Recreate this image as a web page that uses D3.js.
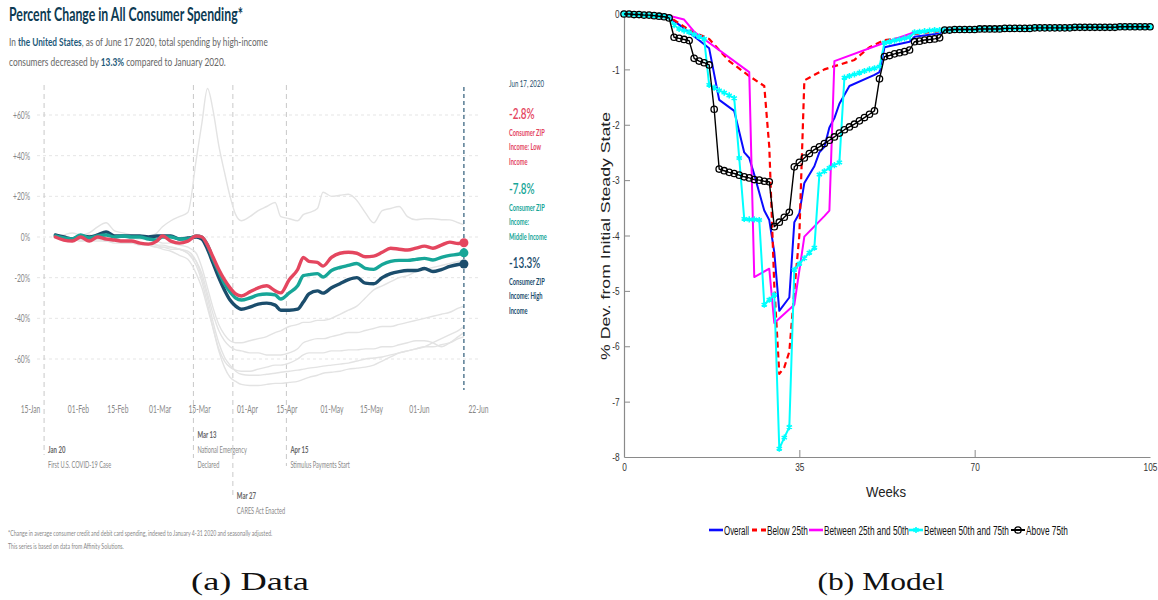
<!DOCTYPE html>
<html>
<head>
<meta charset="utf-8">
<title>Consumer spending: data and model</title>
<script src="https://cdn.jsdelivr.net/npm/d3@7/dist/d3.min.js"></script>
<style>
  html, body { margin: 0; padding: 0; background: #fff; }
  svg { display: block; }
  text { white-space: pre; }
</style>
</head>
<body>
<svg id="fig" width="1158" height="600"></svg>
<script>
// ---------------- (a) Card spending by consumer ZIP income ----------------
const spendDates = ["2020-01-24","2020-01-27","2020-01-30","2020-02-02","2020-02-05","2020-02-08","2020-02-11","2020-02-14","2020-02-17","2020-02-20",
  "2020-02-23","2020-02-26","2020-02-29","2020-03-02","2020-03-05","2020-03-08","2020-03-11","2020-03-14","2020-03-16","2020-03-18",
  "2020-03-20","2020-03-22","2020-03-24","2020-03-26","2020-03-28","2020-03-30","2020-04-02","2020-04-05","2020-04-08","2020-04-11",
  "2020-04-13","2020-04-16","2020-04-19","2020-04-21","2020-04-23","2020-04-26","2020-04-28","2020-05-01","2020-05-04","2020-05-07",
  "2020-05-10","2020-05-13","2020-05-16","2020-05-19","2020-05-22","2020-05-25","2020-05-28","2020-05-31","2020-06-03","2020-06-06",
  "2020-06-09","2020-06-12","2020-06-15","2020-06-17"];

const lowIncome = [0, -1.5, -2, 0, -2, 0, -1, -1.5, -2, -2,
  -3, -3.5, -2, 0.5, -2, -3, -2, 0.5, 0, -4,
  -10, -16, -21, -25, -28, -29, -27, -25, -24, -26.5,
  -27.5, -21, -16, -10, -12, -12.5, -14.3, -10, -8, -7.5,
  -8, -9.7, -9.4, -7.5, -5.5, -6, -6.4, -5.5, -4.5, -5.5,
  -4, -2.5, -3.2, -2.8];

const middleIncome = [0.5, -0.5, -1, 1, -0.5, 0.5, 1, 0, 0.5, 0,
  0, -1, -1.5, 0, 0, -1, -1, 0.5, 0, -4,
  -11, -17, -23, -27, -30, -31, -30, -28.5, -28, -28.5,
  -30.5, -27.5, -24, -19, -18.5, -18, -19.7, -16.5, -15, -14,
  -13, -15.4, -15.9, -13.5, -12, -11.5, -11.5, -11, -10.5, -11.3,
  -10, -9, -8.5, -7.8];

const highIncome = [1, 0, -1, 0.5, 0, 1, 2.5, 0.5, 0.5, 0.5,
  0.5, 0, 0.5, 0.5, 0.5, -1, -0.5, 0, -1, -6,
  -13, -20, -26, -31, -34, -35.5, -34.5, -33, -32.5, -33.5,
  -36, -36, -35.5, -32, -28, -26.5, -27.6, -25, -23, -21,
  -20, -22.7, -23, -20, -18, -17, -16.5, -16.5, -15.5, -17,
  -16, -14.5, -13.5, -13.3];

// other spending breakdowns shown as grey context lines
const context1 = [0, 0.5, -0.5, 0, 1, 0, 1, 0, 0, -0.5,
  -1, 0, 2, 5, 8, 10, 12, 38, 56, 73,
  62, 45, 32, 20, 11, 8, 10, 13, 15, 17,
  10, 9, 8, 11, 12, 14, 22, 20, 20.5, 21,
  18, 12, 7, 13, 14, 15, 10, 8.5, 9, 9,
  8.5, 8.4, 7, 6];
const context2 = [0, 1, 2, 1, 2, 5, 7, 3, 2, 1,
  0, -1, -2, -3, -3, -4, -5, -8, -15, -25,
  -35, -43, -48, -51, -52, -52, -51, -50, -49, -47,
  -46, -44, -43, -42, -42, -41, -41, -40, -38, -36,
  -34, -30, -26, -24, -22, -20, -19, -17, -16, -15,
  -14, -13, -12, -11.3];
const context3 = [0, -1, -1, -2, -1, -1, -2, -2, -3, -3,
  -3, -4, -5, -5, -6, -6, -8, -12, -18, -28,
  -38, -46, -51, -54, -55.5, -56, -57, -57, -58, -58,
  -58, -57, -55, -52, -51, -50, -50, -49, -48, -47,
  -47, -46, -45, -44, -44, -43, -42, -41, -40, -39,
  -38, -37, -35, -34];
const context4 = [0, -1, -2, -1, -2, -2, -2, -3, -3, -3,
  -4, -4, -5, -6, -7, -9, -11, -18, -25, -35,
  -45, -55, -61, -64, -65.5, -66, -66, -65, -64, -63,
  -63, -62, -60, -58, -57, -57, -57, -56, -56, -55.5,
  -55.5, -55, -55, -54, -54, -53, -52, -51, -51, -52,
  -54, -52, -49, -47];
const context5 = [0, -1, -1, -2, -2, -1, -2, -2, -2, -3,
  -3, -3, -4, -4, -5, -6, -8, -14, -22, -33,
  -45, -56, -64, -69, -71, -72.5, -73, -73, -72.5, -72,
  -72, -71.5, -71, -70, -69, -68, -67, -66.5, -66, -65,
  -64.5, -64, -63, -61, -59, -57, -56, -55, -54, -54,
  -53, -52, -50, -49];
const context6 = [0, 0, -1, -1, -2, -1, -1, -2, -2, -2,
  -3, -3, -4, -5, -5, -6, -7, -12, -20, -30,
  -42, -52, -59, -63, -66, -67.5, -68, -68, -67.5, -67,
  -66.5, -66, -65.5, -65, -64.5, -64, -63.5, -63, -62.5, -62,
  -61, -60, -59.5, -59, -58, -57, -56, -55, -54, -52,
  -50, -48, -46, -44];

const pctTicks = [60, 40, 20, 0, -20, -40, -60];
const dateTicks = ["2020-01-15","2020-02-01","2020-02-15","2020-03-01","2020-03-15","2020-04-01",
  "2020-04-15","2020-05-01","2020-05-15","2020-06-01","2020-06-22"];
const dateTickLabels = ["15-Jan","01-Feb","15-Feb","01-Mar","15-Mar","01-Apr","15-Apr","01-May","15-May","01-Jun","22-Jun"];

const eventDates = ["2020-01-20","2020-03-13","2020-03-27","2020-04-15"];
const eventTitles = ["Jan 20","Mar 13","Mar 27","Apr 15"];
const eventNotes = [["First U.S. COVID-19 Case"], ["National Emergency","Declared"], ["CARES Act Enacted"], ["Stimulus Payments Start"]];

const incomeGroupLines = [["Consumer ZIP","Income: Low","Income"],
  ["Consumer ZIP","Income:","Middle Income"],
  ["Consumer ZIP","Income: High","Income"]];
const latestDate = "2020-06-17";

// ---------------- (b) Model: weekly consumption by income percentile ----------------
const weekIndex = d3.range(0, 106);

const overallWeeks = [0, 9, 12, 17, 19, 22, 24, 25, 26, 28, 29, 30, 31, 33, 34, 35, 36, 38, 39, 40, 41, 42, 43, 45, 50, 51, 52, 57, 58, 63, 64, 105];
const overallVals = [0, -0.06, -0.26, -0.62, -1.55, -1.75, -2.5, -2.6, -2.9, -3.55, -3.72, -4.3, -5.36, -5.12, -3.76, -3.6,
  -3.05, -2.75, -2.5, -2.4, -2.05, -1.88, -1.62, -1.3, -1.1, -1.05, -0.6, -0.5, -0.41, -0.35, -0.29, -0.23];

const below25Weeks = [0, 9, 13, 17, 21, 25, 28, 29, 30, 31, 32, 33, 34, 35, 36, 40, 46, 49, 52, 57, 58, 63, 64, 105];
const below25Vals = [0, -0.05, -0.29, -0.45, -0.85, -1.12, -1.3, -2.4, -4.9, -6.5, -6.38, -6.1,
  -5.0, -4.0, -1.2, -1.0, -0.83, -0.6, -0.47, -0.42, -0.36, -0.31, -0.29, -0.23];

const p25to50Weeks = [0, 9, 12, 14, 25, 26, 29, 30, 34, 36, 40, 41, 42, 52, 58, 63, 64, 105];
const p25to50Vals = [0, -0.03, -0.1, -0.32, -1.05, -4.75, -4.6, -5.58, -5.25, -4.02, -3.65, -3.55, -0.85, -0.52, -0.33, -0.29, -0.28, -0.23];

const p50to75 = [0, 0, -0.01, -0.01, -0.02, -0.02, -0.03, -0.03, -0.04, -0.06,
  -0.2, -0.27, -0.3, -0.33, -0.37, -0.41, -0.45, -1.28, -1.33, -1.38,
  -1.42, -1.47, -1.52, -2.6, -3.7, -3.71, -3.71, -3.72, -5.25, -5.16,
  -5.07, -7.85, -7.65, -7.46, -4.62, -4.51, -4.41, -4.31, -4.22, -2.9,
  -2.84, -2.78, -2.73, -2.68, -1.15, -1.12, -1.09, -1.06, -1.03, -1.0,
  -0.98, -0.95, -0.52, -0.5, -0.48, -0.46, -0.44, -0.42, -0.33, -0.32,
  -0.31, -0.3, -0.29, -0.29, -0.29, -0.29, -0.28, -0.28, -0.28, -0.28,
  -0.28, -0.27, -0.27, -0.27, -0.27, -0.27, -0.26, -0.26, -0.26, -0.26,
  -0.26, -0.26, -0.25, -0.25, -0.25, -0.25, -0.25, -0.25, -0.25, -0.25,
  -0.24, -0.24, -0.24, -0.24, -0.24, -0.24, -0.24, -0.24, -0.24, -0.23,
  -0.23, -0.23, -0.23, -0.23, -0.23, -0.23];

const above75 = [0, 0, -0.01, -0.01, -0.02, -0.02, -0.03, -0.04, -0.05, -0.07,
  -0.42, -0.44, -0.46, -0.48, -0.8, -0.85, -0.88, -0.92, -1.72, -2.8,
  -2.83, -2.86, -2.88, -2.91, -2.94, -2.96, -2.99, -3.0, -3.02, -3.03,
  -3.84, -3.76, -3.67, -3.58, -2.76, -2.68, -2.6, -2.52, -2.45, -2.4,
  -2.34, -2.28, -2.22, -2.15, -2.09, -2.04, -1.99, -1.93, -1.87, -1.81,
  -1.75, -1.17, -0.77, -0.75, -0.72, -0.7, -0.68, -0.65, -0.5, -0.49,
  -0.47, -0.46, -0.45, -0.43, -0.29, -0.29, -0.28, -0.28, -0.28, -0.28,
  -0.28, -0.27, -0.27, -0.27, -0.27, -0.27, -0.26, -0.26, -0.26, -0.26,
  -0.26, -0.26, -0.25, -0.25, -0.25, -0.25, -0.25, -0.25, -0.25, -0.25,
  -0.24, -0.24, -0.24, -0.24, -0.24, -0.24, -0.24, -0.24, -0.24, -0.23,
  -0.23, -0.23, -0.23, -0.23, -0.23, -0.23];

const modelYTicks = [0, -1, -2, -3, -4, -5, -6, -7, -8];
const modelXTicks = [0, 35, 70, 105];
const legendNames = ["Overall", "Below 25th", "Between 25th and 50th", "Between 50th and 75th", "Above 75th"];

// ---------------- drawing helpers ----------------
const FONT_A = "Lato, 'Open Sans', 'DejaVu Sans', sans-serif";
const FONT_B = "'Liberation Sans', Arial, sans-serif";
const FONT_CAP = "'Liberation Serif', 'DejaVu Serif', serif";
const parseDay = d3.timeParse("%Y-%m-%d");
const svg = d3.select("#fig");

// text whose advance is squeezed horizontally to a target width (or by a factor)
function label(parent, x, y, parts, o = {}) {
  const g = parent.append("g")
    .attr("transform", `translate(${x},${y})` + (o.rotate ? ` rotate(${o.rotate})` : ""));
  const t = g.append("text")
    .attr("dominant-baseline", "central")
    .attr("text-anchor", o.anchor || "start")
    .style("font-family", o.family || FONT_A)
    .style("font-size", (o.size || 10) + "px")
    .style("font-weight", o.weight || 400)
    .attr("fill", o.fill || "#333");
  (typeof parts === "string" ? [[parts, {}]] : parts).forEach(([s, st]) => {
    const sp = t.append("tspan").text(s);
    if (st.fill) sp.attr("fill", st.fill);
    if (st.weight) sp.style("font-weight", st.weight);
  });
  const len = t.node().getComputedTextLength();
  const k = o.width ? o.width / len : (o.k || 1);
  t.attr("transform", `scale(${k},1)`);
  return g;
}

// ================= Panel (a) =================
const A = svg.append("g");
const xA = d3.scaleTime().domain([parseDay("2020-01-15"), parseDay("2020-06-22")]).range([30, 478]);
const yA = d3.scaleLinear().domain([-60, 60]).range([359, 115]);
const dates = spendDates.map(parseDay);

const NAVY = "#1b4d6c", TEAL = "#17a698", PINK = "#e4465f", TITLE = "#0d3b53";

label(A, 9, 14, "Percent Change in All Consumer Spending*", {size: 18, weight: 700, fill: TITLE, width: 234});
const bold = {fill: "#1d5a7a", weight: 700};
label(A, 9, 41, [["In ", {}], ["the United States", bold], [", as of June 17 2020, total spending by high-income", {}]],
  {size: 12, fill: "#666", width: 259});
label(A, 9, 61, [["consumers decreased by ", {}], [Math.abs(highIncome[highIncome.length - 1]).toFixed(1) + "%", bold],
  [" compared to January 2020.", {}]], {size: 12, fill: "#666", width: 217});

// horizontal grid
A.append("g").selectAll("line").data(pctTicks).join("line")
  .attr("x1", 37).attr("x2", 480)
  .attr("y1", d => yA(d)).attr("y2", d => yA(d))
  .attr("stroke", "#dedede").attr("stroke-width", 0.8).attr("stroke-dasharray", "3,3");

// y axis labels
const axYA = A.append("g").attr("transform", "translate(32,0)")
  .call(d3.axisLeft(yA).tickValues(pctTicks).tickSize(0).tickPadding(3)
    .tickFormat(v => (v > 0 ? "+" : "") + v + "%"));
axYA.select(".domain").remove();
axYA.selectAll("text").attr("fill", "#888").style("font-family", FONT_A).style("font-size", "10.5px")
  .attr("transform", "scale(0.64,1)");

// x axis labels
const axXA = A.append("g").attr("transform", "translate(0,404)")
  .call(d3.axisBottom(xA).tickValues(dateTicks.map(parseDay)).tickSize(0).tickPadding(2)
    .tickFormat((d, i) => dateTickLabels[i]));
axXA.select(".domain").remove();
axXA.selectAll("text").attr("fill", "#888").style("font-family", FONT_A).style("font-size", "10.5px")
  .attr("transform", "scale(0.64,1)");

// event markers
const eventTitleY = [449, 434, 495, 449];
const eventLineEnd = [455, 458, 497, 466];
eventDates.forEach((d, i) => {
  const x = xA(parseDay(d));
  A.append("line").attr("x1", x).attr("x2", x).attr("y1", 85).attr("y2", eventLineEnd[i])
    .attr("stroke", "#c9c9c9").attr("stroke-width", 1).attr("stroke-dasharray", "5,4");
  label(A, x + 4, eventTitleY[i], eventTitles[i], {size: 10, weight: 700, fill: "#666", k: 0.6});
  eventNotes[i].forEach((s, j) => label(A, x + 4, eventTitleY[i] + 15 * (j + 1), s, {size: 10, fill: "#888", k: 0.56}));
});

// lines
const lineA = d3.line().x((d, i) => xA(dates[i])).y(d => yA(d)).curve(d3.curveMonotoneX);
[context1, context2, context3, context4, context5, context6].forEach(s => {
  A.append("path").attr("d", lineA(s)).attr("fill", "none").attr("stroke", "#e3e3e3").attr("stroke-width", 1.4);
});

// latest-date marker
const xLatest = xA(parseDay(latestDate));
A.append("line").attr("x1", xLatest).attr("x2", xLatest).attr("y1", 87).attr("y2", 390)
  .attr("stroke", NAVY).attr("stroke-width", 1.1).attr("stroke-dasharray", "4,3");

const incomeSeries = [
  {vals: highIncome, color: NAVY},
  {vals: middleIncome, color: TEAL},
  {vals: lowIncome, color: PINK}
];
incomeSeries.forEach(s => {
  A.append("path").attr("d", lineA(s.vals)).attr("fill", "none").attr("stroke", s.color)
    .attr("stroke-width", 3.4).attr("stroke-linejoin", "round").attr("stroke-linecap", "round");
});
incomeSeries.forEach(s => {
  const last = s.vals[s.vals.length - 1];
  A.append("circle").attr("cx", xA(dates[dates.length - 1])).attr("cy", yA(last)).attr("r", 4.5).attr("fill", s.color);
});

// side annotations
label(A, 509, 83, "Jun 17, 2020", {size: 9, fill: NAVY, width: 35});
const annotY = [113, 188, 262];
[lowIncome, middleIncome, highIncome].forEach((vals, i) => {
  const color = [PINK, TEAL, NAVY][i];
  const v = vals[vals.length - 1];
  label(A, 509, annotY[i], v.toFixed(1) + "%", {size: 16, weight: 600, fill: color, k: 0.62});
  incomeGroupLines[i].forEach((s, j) => {
    label(A, 509, annotY[i] + 19 + 14.5 * j, s, {size: 10, weight: 700, fill: color, k: 0.57});
  });
});

// footnote
label(A, 8, 533, "*Change in average consumer credit and debit card spending, indexed to January 4-31 2020 and seasonally adjusted.",
  {size: 7.5, fill: "#888", width: 265});
label(A, 8, 546, "This series is based on data from Affinity Solutions.", {size: 7.5, fill: "#888", width: 116});

// ================= Panel (b) =================
const B = svg.append("g");
const xB = d3.scaleLinear().domain([0, 105]).range([624, 1150]);
const yB = d3.scaleLinear().domain([-8, 0]).range([457, 14]);

const axYB = B.append("g").attr("transform", "translate(624,0)")
  .call(d3.axisLeft(yB).tickValues(modelYTicks).tickSize(-6).tickSizeOuter(0).tickPadding(6).tickFormat(d => String(d)));
const axXB = B.append("g").attr("transform", "translate(0,457)")
  .call(d3.axisBottom(xB).tickValues(modelXTicks).tickSize(-7).tickSizeOuter(0).tickPadding(6).tickFormat(d => String(d)));
[axYB, axXB].forEach(ax => {
  ax.select(".domain").attr("stroke", "#8a8a8a").attr("stroke-width", 1.2);
  ax.selectAll(".tick line").attr("stroke", "#8a8a8a");
  ax.selectAll("text").attr("fill", "#333").style("font-family", FONT_B).style("font-size", "11.5px")
    .attr("transform", "scale(0.72,1)");
});
axYB.selectAll(".tick").filter(d => d === 0 || d === -8).select("line").remove();
axXB.selectAll(".tick").filter(d => d === 0 || d === 105).select("line").remove();

label(B, 605, 236, "% Dev. from Initial Steady State", {family: FONT_B, size: 13, fill: "#222", anchor: "middle", rotate: -90, width: 248});
label(B, 886, 492, "Weeks", {family: FONT_B, size: 14, fill: "#222", anchor: "middle", width: 40});

const modelSeries = [
  {weeks: overallWeeks, vals: overallVals, color: "#0a0aff", width: 2},
  {weeks: below25Weeks, vals: below25Vals, color: "#ff0000", width: 2.2, dash: "6,4"},
  {weeks: p25to50Weeks, vals: p25to50Vals, color: "#ff00ff", width: 2},
  {weeks: weekIndex, vals: p50to75, color: "#00ffff", width: 2, marker: "star"},
  {weeks: weekIndex, vals: above75, color: "#000000", width: 1.4, marker: "circle"}
];
const starSym = d3.symbol().type(d3.symbolAsterisk || d3.symbolCross).size(26);

function drawMarker(g, type, x, y, color) {
  if (type === "circle") {
    g.append("circle").attr("cx", x).attr("cy", y).attr("r", 3.2)
      .attr("fill", "none").attr("stroke", color).attr("stroke-width", 1.3);
  } else if (type === "star") {
    g.append("path").attr("d", starSym()).attr("transform", `translate(${x},${y})`)
      .attr("fill", color).attr("stroke", color).attr("stroke-width", 1.6);
  }
}

modelSeries.forEach(s => {
  const line = d3.line().x((d, i) => xB(s.weeks[i])).y(d => yB(d));
  B.append("path").attr("d", line(s.vals)).attr("fill", "none").attr("stroke", s.color)
    .attr("stroke-width", s.width).attr("stroke-dasharray", s.dash || null).attr("stroke-linejoin", "round");
  if (s.marker) {
    const mg = B.append("g");
    s.vals.forEach((v, i) => drawMarker(mg, s.marker, xB(s.weeks[i]), yB(v), s.color));
  }
});

// legend
const legendX = [709, 752, 809, 909, 1011];
const legendTextW = [25, 41, 85, 85, 42];
const legendY = 530;
modelSeries.forEach((s, i) => {
  const x0 = legendX[i];
  B.append("line").attr("x1", x0).attr("x2", x0 + 14).attr("y1", legendY).attr("y2", legendY)
    .attr("stroke", s.color).attr("stroke-width", s.width + 0.6).attr("stroke-dasharray", s.dash ? "5,4" : null);
  if (s.marker) drawMarker(B, s.marker, x0 + 7, legendY, s.color);
  label(B, x0 + 15, legendY, legendNames[i], {family: FONT_B, size: 13.5, fill: "#111", width: legendTextW[i]});
});

// ================= captions =================
label(svg, 250, 581, "(a) Data", {family: FONT_CAP, size: 25, fill: "#111", anchor: "middle", width: 118});
label(svg, 881, 581, "(b) Model", {family: FONT_CAP, size: 25, fill: "#111", anchor: "middle", width: 127});
</script>
</body>
</html>
